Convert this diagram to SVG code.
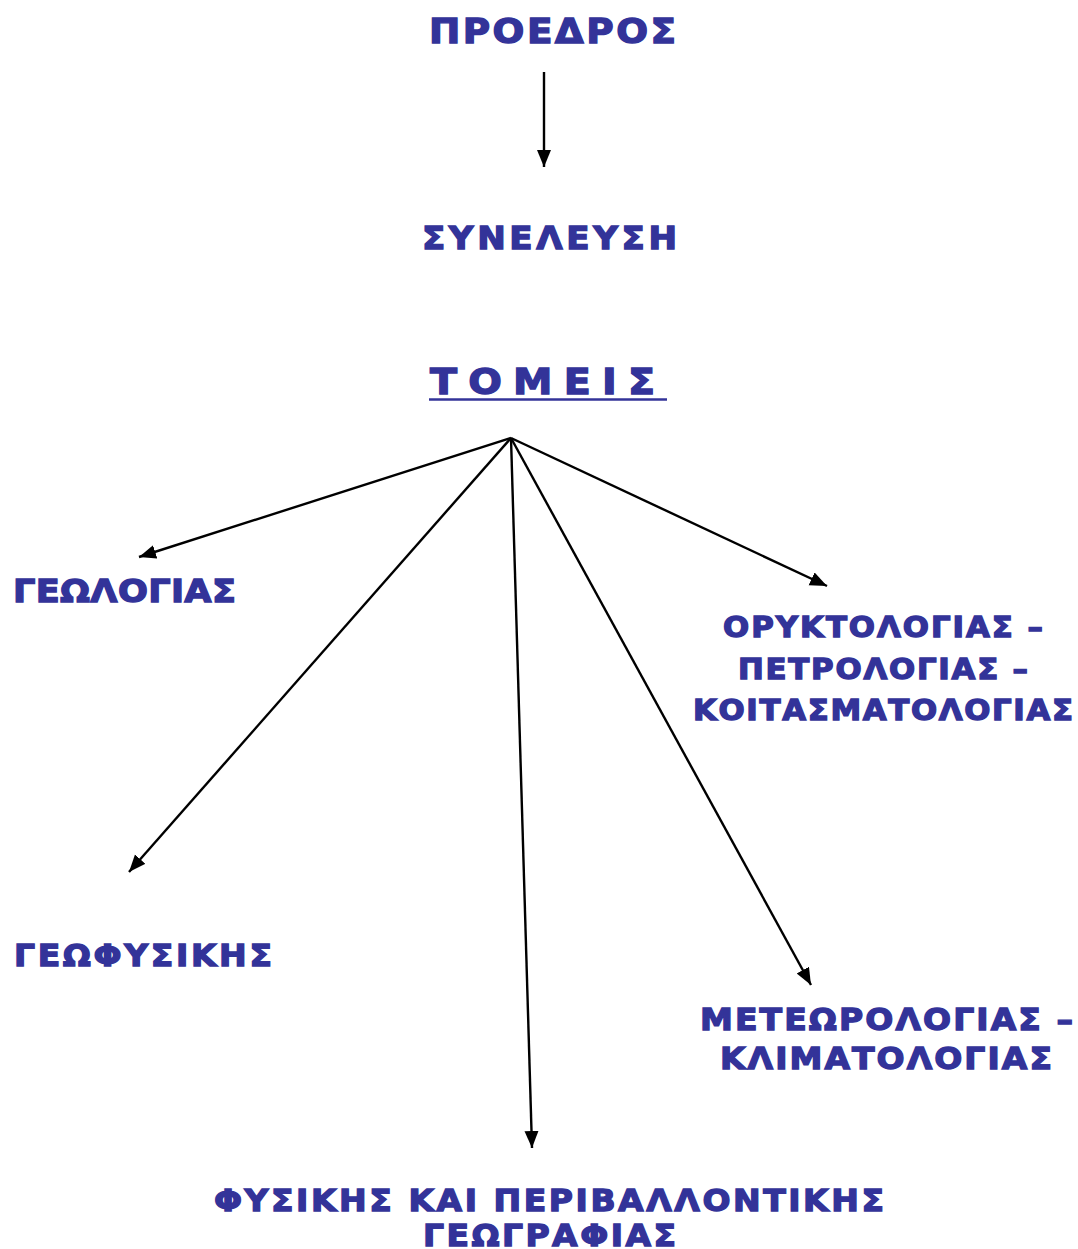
<svg xmlns="http://www.w3.org/2000/svg" width="1078" height="1249" viewBox="0 0 1078 1249">
<style>
.t{font-family:"DejaVu Sans","Liberation Sans",Arial,sans-serif;font-weight:bold;fill:#333399;stroke:#333399;stroke-width:1.3}
.c{stroke:#000;stroke-width:2.4;fill:none}
</style>
<defs>
<marker id="ah" markerUnits="userSpaceOnUse" markerWidth="20" markerHeight="16" refX="17" refY="7" orient="auto">
<path d="M0,0 L17,7 L0,14 Z" fill="#000"/>
</marker>
</defs>
<rect width="1078" height="1249" fill="#fff"/>
<g id="connectors">
<line class="c" x1="544" y1="72" x2="544" y2="167" marker-end="url(#ah)"/>
<line class="c" x1="511" y1="438" x2="139" y2="557" marker-end="url(#ah)"/>
<line class="c" x1="511" y1="438" x2="129" y2="872" marker-end="url(#ah)"/>
<line class="c" x1="511" y1="438" x2="532" y2="1148" marker-end="url(#ah)"/>
<line class="c" x1="511" y1="438" x2="811" y2="985" marker-end="url(#ah)"/>
<line class="c" x1="511" y1="438" x2="827" y2="586" marker-end="url(#ah)"/>
</g>
<g transform="scale(1.1,1)">
<g id="proedros"><text class="t" x="390" y="43" font-size="34" textLength="224.5" lengthAdjust="spacing">ΠΡΟΕΔΡΟΣ</text></g>
<g id="syneleysi"><text class="t" x="383.6" y="249" font-size="31" textLength="231.8" lengthAdjust="spacing">ΣΥΝΕΛΕΥΣΗ</text></g>
<g id="tomeis"><text class="t" x="390.9" y="394" font-size="36" textLength="204.5" lengthAdjust="spacing">ΤΟΜΕΙΣ</text></g>
<g id="geologias"><text class="t" x="11.8" y="602" font-size="32" textLength="202.7" lengthAdjust="spacing">ΓΕΩΛΟΓΙΑΣ</text></g>
<g id="oryktologias">
<text class="t" x="657.3" y="637" font-size="28" textLength="290.9" lengthAdjust="spacing">ΟΡΥΚΤΟΛΟΓΙΑΣ –</text>
<text class="t" x="670.9" y="679" font-size="28" textLength="263.6" lengthAdjust="spacing">ΠΕΤΡΟΛΟΓΙΑΣ –</text>
<text class="t" x="630" y="720" font-size="28" textLength="345.5" lengthAdjust="spacing">ΚΟΙΤΑΣΜΑΤΟΛΟΓΙΑΣ</text>
</g>
<g id="geofysikis"><text class="t" x="12.7" y="966" font-size="30" textLength="234.5" lengthAdjust="spacing">ΓΕΩΦΥΣΙΚΗΣ</text></g>
<g id="meteorologias">
<text class="t" x="636.4" y="1030" font-size="30" textLength="339.1" lengthAdjust="spacing">ΜΕΤΕΩΡΟΛΟΓΙΑΣ –</text>
<text class="t" x="654.5" y="1069" font-size="30" textLength="301.8" lengthAdjust="spacing">ΚΛΙΜΑΤΟΛΟΓΙΑΣ</text>
</g>
<g id="fysikis">
<text class="t" x="194.5" y="1211" font-size="30" textLength="609.1" lengthAdjust="spacing">ΦΥΣΙΚΗΣ ΚΑΙ ΠΕΡΙΒΑΛΛΟΝΤΙΚΗΣ</text>
<text class="t" x="384.5" y="1246" font-size="30" textLength="230" lengthAdjust="spacing">ΓΕΩΓΡΑΦΙΑΣ</text>
</g>
</g>
<line id="tomeis-underline" x1="429" y1="399.5" x2="667" y2="399.5" stroke="#333399" stroke-width="2.5"/>
</svg>
